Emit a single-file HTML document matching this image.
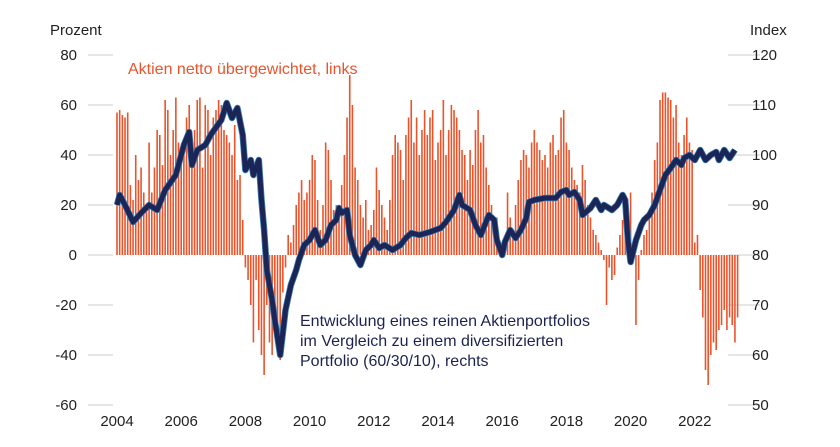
<!DOCTYPE html>
<html><head><meta charset="utf-8"><style>
body{margin:0;background:#fff;}
svg{display:block;font-family:"Liberation Sans",sans-serif;}
</style></head><body>
<svg id="chart" width="840" height="447">
<text x="50" y="35" font-size="15" fill="#222">Prozent</text>
<text x="750" y="35" font-size="15" fill="#222">Index</text>
<g id="grid"></g><g id="ticks"></g><g id="bars"></g><g id="line"></g>
<text x="128" y="74" font-size="16" fill="#e8542c">Aktien netto übergewichtet, links</text>
<text font-size="16" fill="#1d2350"><tspan x="300" y="326">Entwicklung eines reinen Aktienportfolios</tspan><tspan x="300" y="346">im Vergleich zu einem diversifizierten</tspan><tspan x="300" y="366">Portfolio (60/30/10), rechts</tspan></text>
</svg>
<script>
const leftTicks=[80,60,40,20,0,-20,-40,-60];
const rightTicks=[120,110,100,90,80,70,60,50];
const yearLabels=[2004,2006,2008,2010,2012,2014,2016,2018,2020,2022];
const barStartYear=2004;
const barValues=[
57,58,56,55,57,28,22,40,30,35,25,20,
45,25,35,50,48,36,62,58,40,50,63,45,
40,42,55,60,45,50,62,63,35,60,58,40,
55,58,62,60,50,48,45,40,52,30,32,14,
-5,-10,-20,-35,-10,-30,-40,-48,-20,-35,-40,-25,
-30,-42,-15,-5,8,5,12,20,25,30,22,25,
30,40,38,22,10,20,45,42,30,18,20,15,
28,40,55,72,60,35,30,20,15,22,10,12,
18,35,26,20,15,10,22,40,48,45,42,30,
48,55,62,45,55,40,50,58,48,55,58,38,
45,50,62,40,50,60,58,55,50,42,40,30,
42,36,50,58,45,48,35,28,20,10,15,5,
3,2,25,15,10,20,30,38,42,40,35,45,
50,45,42,38,40,35,45,48,40,42,55,58,
45,42,35,30,28,25,36,30,20,15,10,8,
5,2,-2,-20,-5,-10,-8,3,8,14,16,20,
25,5,-28,-10,2,8,10,18,25,38,45,62,
65,65,63,62,55,60,45,40,48,55,45,42,
5,8,-14,-25,-46,-52,-40,-35,-38,-30,-28,-22,
-30,-25,-28,-35,-25];
const indexMonths=[0,1,3,6,9,12,15,18,22,25,27,28,30,33,35,39,41,43,45,47,48,50,51,53,54,55,56,58,59,61,63,65,67,68,70,72,74,76,78,80,82,83,84,86,87,89,91,93,95,96,98,100,103,106,108,110,113,117,121,123,126,128,129,132,134,136,139,141,142,144,145,147,149,151,153,154,156,160,164,166,168,169,171,173,174,177,179,181,182,185,187,189,190,191,192,194,196,197,199,201,203,205,207,209,211,212,214,216,218,220,222,224,225,227,229,231];
const indexValues=[90,92,90,86.6,88.4,90,89,93,96,102,104.6,98,101,102,104,107,110.4,107.4,109.4,104,97,99,96,99,91,85,77,71,67,60,69,74,77,79,82,83,85,82,83,86,87,89.4,88.4,89,84,80,78,81,82,83,81.4,82,81,82,83.4,84.4,84,84.6,85.4,86.6,89,92,90,89,86,84,88,87,83,80,82.6,85,83.4,85,87.4,90.6,91,91.4,91.4,92.6,93,92,92.6,91,88,89.4,91,89,90,89,90,92,91,83,78.6,83,86,87,88,90,93,96,97.4,99,98,99.4,100,99,101,99,100,100.6,99,101,99.4,101];
const X=t=>117+(t-2004)*32.1;
const YL=v=>255-v*2.5;
const YR=v=>55+(120-v)*5;
const NS="http://www.w3.org/2000/svg";
function mk(tag,attrs,parent){const e=document.createElementNS(NS,tag);for(const k in attrs)e.setAttribute(k,attrs[k]);parent.appendChild(e);return e;}
const grid=document.getElementById('grid'),ticks=document.getElementById('ticks');
leftTicks.forEach(v=>{
 const l=mk('line',{x1:88,x2:113,y1:YL(v),y2:YL(v),stroke:'#ccc','stroke-width':1},grid);
 
 
 const t=mk('text',{x:77,y:YL(v)+5,'text-anchor':'end','font-size':15,fill:'#222'},ticks);
 t.textContent=v;
 
 
});
rightTicks.forEach(v=>{
 const l=mk('line',{x1:728,x2:760,y1:YR(v),y2:YR(v),stroke:'#ccc','stroke-width':1},grid);
 
 
 const t=mk('text',{x:752,y:YR(v)+5,'font-size':15,fill:'#222'},ticks);
 t.textContent=v;
 
 
});
yearLabels.forEach(y=>{
 const t=mk('text',{x:X(y),y:426,'text-anchor':'middle','font-size':15,fill:'#222'},ticks);
 t.textContent=y;
 
 
});
const bars=document.getElementById('bars');
barValues.forEach((v,i)=>{
 const x=X(barStartYear+i/12);
 const y0=YL(0),y1=YL(v);
 const r=mk('rect',{x:x-0.8,y:Math.min(y0,y1),width:1.6,height:Math.abs(y1-y0),fill:'#e8542c'},bars);
 
 
});
const lg=document.getElementById('line');
const pts=indexValues.map((v,i)=>X(2004+indexMonths[i]/12).toFixed(1)+','+YR(v).toFixed(1)).join(' ');
const halo=mk('polyline',{points:pts,fill:'none',stroke:'#3d7fb5','stroke-width':6.5,'stroke-linejoin':'round'},lg);


const pl=mk('polyline',{points:pts,fill:'none',stroke:'#1b2657','stroke-width':5,'stroke-linejoin':'round'},lg);


</script>
</body></html>
